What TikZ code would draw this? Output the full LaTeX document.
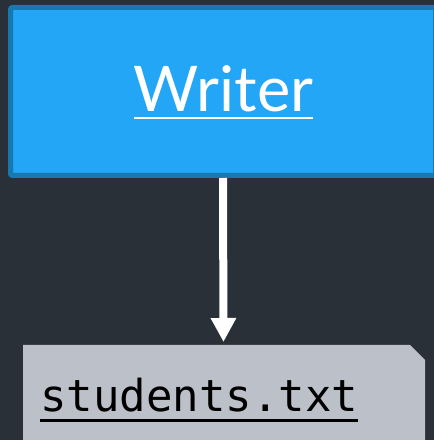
\documentclass[tikz,border=0pt]{standalone}
\usepackage{fontspec}
\setmainfont{Lato}
\newfontfamily\codefont{DejaVu Sans Mono}
\usetikzlibrary{arrows.meta}
\definecolor{bgdark}{RGB}{41,48,56}
\definecolor{boxblue}{RGB}{34,166,245}
\definecolor{boxedge}{RGB}{24,121,176}
\definecolor{filegray}{RGB}{188,192,200}
% underline with chosen offset (#1) and thickness (#2)
\newcommand{\ulrule}[3]{\setbox0=\hbox{#3}\copy0\llap{\rule[-#1]{\wd0}{#2}}}
\tikzset{
  procbox/.style={draw=boxedge, fill=boxblue, line width=5pt, rounded corners=2pt,
    minimum width=425pt, minimum height=168pt, inner sep=0pt},
  proclabel/.style={inner sep=0pt, text=white, font=\fontsize{63}{70}\selectfont},
  filetext/.style={inner sep=0pt, text=black, font=\codefont\fontsize{44}{50}\selectfont},
  flow/.style={draw=white, line width=8pt, -{Triangle[width=24pt,length=24pt]}}
}
\begin{document}
\begin{tikzpicture}[x=1pt,y=1pt]
  \useasboundingbox (0,0) rectangle (434,440);
  \fill[bgdark] (0,0) rectangle (434,440);
  \begin{scope}
    \clip (0,0) rectangle (434,440);
    % process box and its label
    \node[procbox] (writer) at (223,348.5) {};
    \node[proclabel, anchor=base] (writerlabel) at (223.5,328) {\ulrule{7.3pt}{2.6pt}{Writer}};
    % file shape with clipped top-right corner
    \fill[filegray] (23,-10) -- (23,95) -- (410,95) -- (425,80) -- (425,-10) -- cycle;
    \coordinate (filetop) at (223.5,95);
    \node[filetext, anchor=base west] (file) at (40,28) {\ulrule{10pt}{3pt}{students.txt}};
    \draw[flow] (writer.south) -- ([yshift=3pt]filetop);
  \end{scope}
\end{tikzpicture}
\end{document}
